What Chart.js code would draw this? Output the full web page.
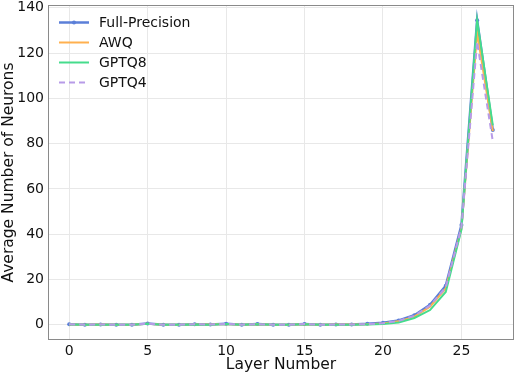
<!DOCTYPE html>
<html><head><meta charset="utf-8">
<script src="https://cdn.jsdelivr.net/npm/chart.js@4"></script>
<style>html,body{margin:0;padding:0;background:#fff}#wrap{width:518px;height:376px}</style>
</head><body><div id="wrap"><canvas id="c" width="518" height="376"></canvas></div>
<script>
const layers = [0,1,2,3,4,5,6,7,8,9,10,11,12,13,14,15,16,17,18,19,20,21,22,23,24,25,26,27];
const fullPrecision = [0.2,0.0,0.1,0.0,0.0,0.6,0.0,0.0,0.2,0.1,0.4,0.0,0.3,0.0,0.0,0.3,0.0,0.1,0.1,0.4,0.9,1.9,4.2,8.8,17.2,44.0,134.5,86.0];
const awq = [0.1,0.0,0.1,0.0,0.0,0.4,0.0,0.0,0.1,0.1,0.3,0.0,0.2,0.0,0.0,0.2,0.0,0.1,0.1,0.2,0.6,1.5,3.6,8.0,16.0,42.5,129.0,85.5];
const gptq8 = [0.1,0.0,0.0,0.0,0.0,0.4,0.0,0.0,0.1,0.0,0.3,0.0,0.2,0.0,0.0,0.2,0.0,0.0,0.0,0.1,0.3,1.0,3.0,6.5,14.5,42.0,134.5,88.0];
const gptq4 = [0.2,0.0,0.1,0.0,0.0,0.5,0.0,0.0,0.2,0.1,0.4,0.0,0.3,0.0,0.0,0.3,0.0,0.1,0.1,0.3,0.7,1.7,4.0,8.5,16.5,43.0,125.0,81.0];
const seriesNames = ["Full-Precision","AWQ","GPTQ8","GPTQ4"];
const xTicks = [0,5,10,15,20,25];
const yTicks = [0,20,40,60,80,100,120,140];

const FONT = "'DejaVu Sans', sans-serif";
const pts = arr => layers.map((x,i)=>({x:x,y:arr[i]}));

const legendInside = {
  id:'legendInside',
  afterDatasetsDraw(chart){
    const ctx = chart.ctx;
    const ca = chart.chartArea;
    ctx.save();
    const x0 = ca.left + 11, x1 = ca.left + 41, tx = ca.left + 51;
    chart.data.datasets.forEach((ds,i)=>{
      const y = ca.top + 17.5 + i*20;
      ctx.strokeStyle = ds.borderColor;
      ctx.lineWidth = ds.borderWidth;
      ctx.setLineDash(ds.borderDash || []);
      ctx.beginPath(); ctx.moveTo(x0,y); ctx.lineTo(x1,y); ctx.stroke();
      ctx.setLineDash([]);
      if (ds.pointRadius > 0) {
        ctx.fillStyle = ds.borderColor;
        ctx.beginPath(); ctx.arc((x0+x1)/2, y, ds.pointRadius, 0, Math.PI*2); ctx.fill();
      }
      ctx.fillStyle = '#111';
      ctx.font = '14px ' + FONT;
      ctx.textBaseline = 'middle';
      ctx.textAlign = 'left';
      ctx.fillText(ds.label, tx, y+1);
    });
    ctx.restore();
  },
  afterDraw(chart){
    const ctx = chart.ctx, ca = chart.chartArea;
    ctx.save();
    ctx.strokeStyle = '#8a8a8a'; ctx.lineWidth = 1;
    ctx.strokeRect(Math.round(ca.left)+0.5, Math.round(ca.top)+0.5, Math.round(ca.right-ca.left)-1, Math.round(ca.bottom-ca.top)-1);
    ctx.restore();
  }
};

function noPad(s){ s.paddingTop = 0; s.paddingBottom = 0; s.paddingLeft = 0; s.paddingRight = 0; }

new Chart(document.getElementById('c'), {
  type:'line',
  data:{datasets:[
    {label:seriesNames[0], data:pts(fullPrecision), borderColor:'#5b7fd8', backgroundColor:'#5b7fd8', borderWidth:2.5, pointRadius:2, pointBorderWidth:0, order:4},
    {label:seriesNames[1], data:pts(awq), borderColor:'#ffb04f', backgroundColor:'#ffb04f', borderWidth:2, pointRadius:0, order:3},
    {label:seriesNames[2], data:pts(gptq8), borderColor:'#45dc8c', backgroundColor:'#45dc8c', borderWidth:2, pointRadius:0, order:2},
    {label:seriesNames[3], data:pts(gptq4), borderColor:'#b79be8', backgroundColor:'#b79be8', borderWidth:2, borderDash:[6,4], pointRadius:0, order:1}
  ]},
  options:{
    responsive:false, animation:false, devicePixelRatio:1,
    layout:{padding:{top:5,right:3,left:0,bottom:0}},
    plugins:{legend:{display:false}, tooltip:{enabled:false}},
    scales:{
      x:{type:'linear', min:-1.35, max:28.35,
        afterBuildTicks(s){ s.ticks = xTicks.map(v=>({value:v})); },
        afterFit(s){ s.height = 36; noPad(s); },
        grid:{color:'#e8e8e8', lineWidth:1, drawTicks:false},
        border:{display:false},
        ticks:{font:{family:FONT,size:14}, color:'#111', padding:3, maxRotation:0},
        title:{display:true, text:'Layer Number', font:{family:FONT,size:15.5}, color:'#111', padding:{top:0,bottom:2}}
      },
      y:{type:'linear', min:-6.73, max:141.2,
        afterBuildTicks(s){ s.ticks = yTicks.map(v=>({value:v})); },
        afterFit(s){ s.width = 48; noPad(s); },
        grid:{color:'#e8e8e8', lineWidth:1, drawTicks:false},
        border:{display:false},
        ticks:{font:{family:FONT,size:14}, color:'#111', padding:4},
        title:{display:true, text:'Average Number of Neurons', font:{family:FONT,size:15.5}, color:'#111', padding:{top:0,bottom:2}}
      }
    }
  },
  plugins:[legendInside]
});
</script></body></html>
